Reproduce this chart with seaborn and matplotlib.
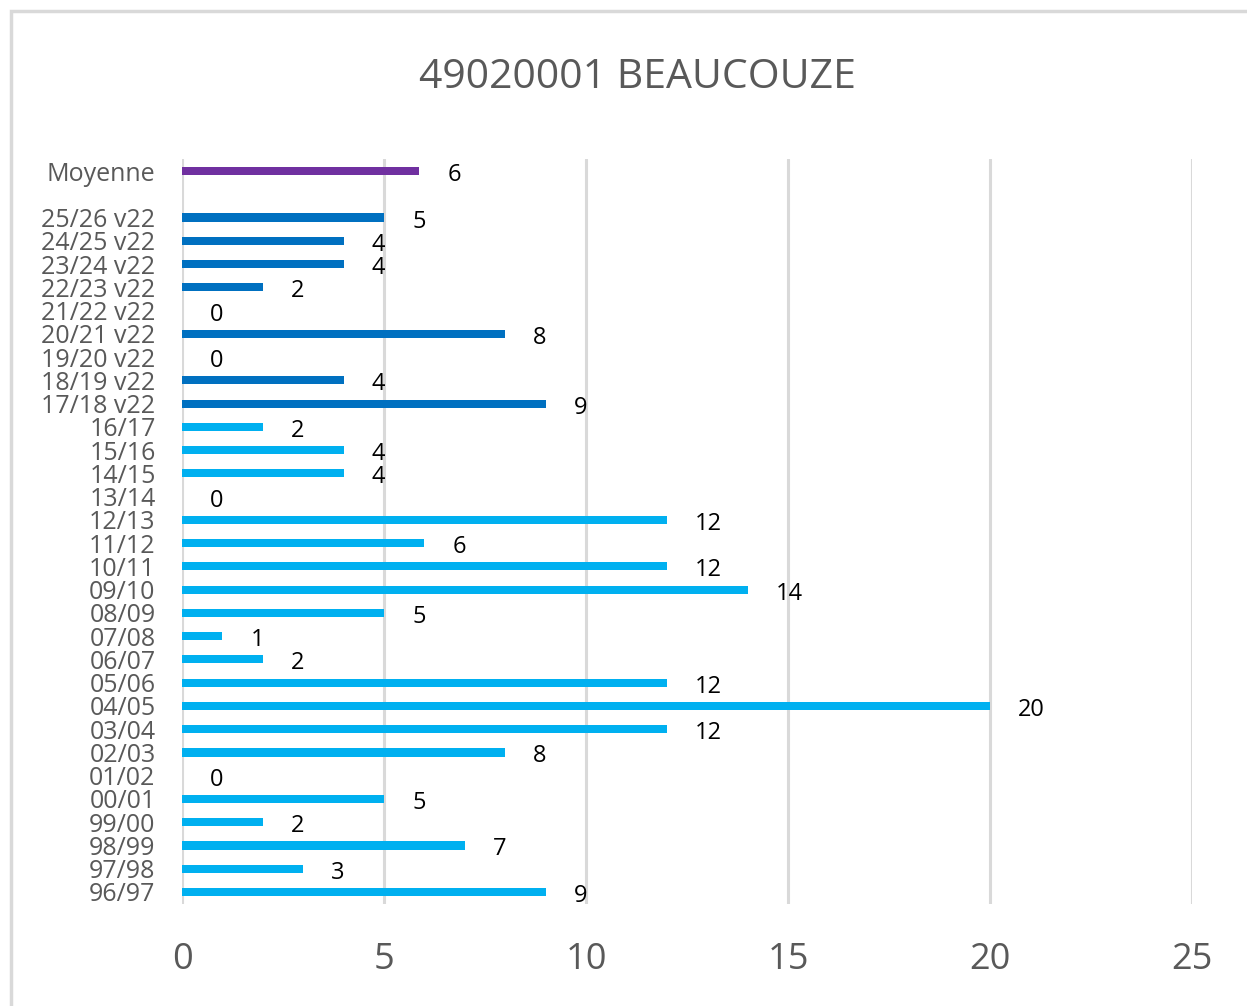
import matplotlib
matplotlib.use("Agg")
import matplotlib.pyplot as plt
import seaborn as sns
import pandas as pd
from matplotlib.patches import Rectangle

# ---------------- data ----------------
title = "49020001 BEAUCOUZE"
moyenne_label = ["Moyenne"]
moyenne_value = [5.87]
v22_labels = ["25/26 v22", "24/25 v22", "23/24 v22", "22/23 v22", "21/22 v22",
              "20/21 v22", "19/20 v22", "18/19 v22", "17/18 v22"]
v22_values = [5, 4, 4, 2, 0, 8, 0, 4, 9]
old_labels = ["16/17", "15/16", "14/15", "13/14", "12/13", "11/12", "10/11",
              "09/10", "08/09", "07/08", "06/07", "05/06", "04/05", "03/04",
              "02/03", "01/02", "00/01", "99/00", "98/99", "97/98", "96/97"]
old_values = [2, 4, 4, 0, 12, 6, 12, 14, 5, 1, 2, 12, 20, 12, 8, 0, 5, 2, 7, 3, 9]
x_ticks = [0, 5, 10, 15, 20, 25]

colors = {"moy": "#7030A0", "v22": "#0070C0", "old": "#00B0F0"}

df = pd.DataFrame({
    "cat": moyenne_label + v22_labels + old_labels,
    "val": moyenne_value + v22_values + old_values,
    "grp": ["moy"] * len(moyenne_label) + ["v22"] * len(v22_labels) + ["old"] * len(old_labels),
})
order = moyenne_label + [" "] + v22_labels + old_labels

# ---------------- plot ----------------
sns.set_theme(style="white")
plt.rcParams["font.family"] = ["Open Sans", "DejaVu Sans"]

W, H = 1247, 1006
fig = plt.figure(figsize=(W / 100, H / 100), dpi=100)
ax = fig.add_axes([182 / W, 1 - 903.6 / H, 1010 / W, (903.6 - 159.4) / H])

sns.barplot(data=df, y="cat", x="val", hue="grp", order=order, palette=colors,
            dodge=False, width=0.35, legend=False, ax=ax, orient="h",
            saturation=1, linewidth=0)

ax.set_xlim(0, 25)
ax.set_ylim(len(order) - 0.5, -0.5)
ax.set_xticks(x_ticks)
ax.set_xticklabels([str(t) for t in x_ticks])
ax.set_xlabel("")
ax.set_ylabel("")
for s in ax.spines.values():
    s.set_visible(False)
ax.xaxis.grid(True, color="#D9D9D9", linewidth=2.2)
ax.set_axisbelow(True)
ax.tick_params(axis="y", length=0, pad=19, labelsize=18, labelcolor="#595959")
ax.tick_params(axis="x", length=0, pad=28, labelsize=26, labelcolor="#595959")

# value labels
pos = {c: i for i, c in enumerate(order)}
for c, v in zip(df["cat"], df["val"]):
    ax.annotate(f"{v:.0f}", xy=(v, pos[c]), xytext=(28, -4), textcoords="offset pixels",
                ha="left", va="center", fontsize=17, color="black")

fig.text(637 / W, 1 - 78 / H, title, ha="center", va="center", fontsize=29.5, color="#595959")

# chart frame
fig.patches.append(Rectangle((11 / W, -0.1), 1.2, 1 - 11 / H + 0.1, transform=fig.transFigure,
                             fill=False, edgecolor="#D9D9D9", linewidth=2.5))

fig.savefig("out.png", dpi=100, facecolor="white")
